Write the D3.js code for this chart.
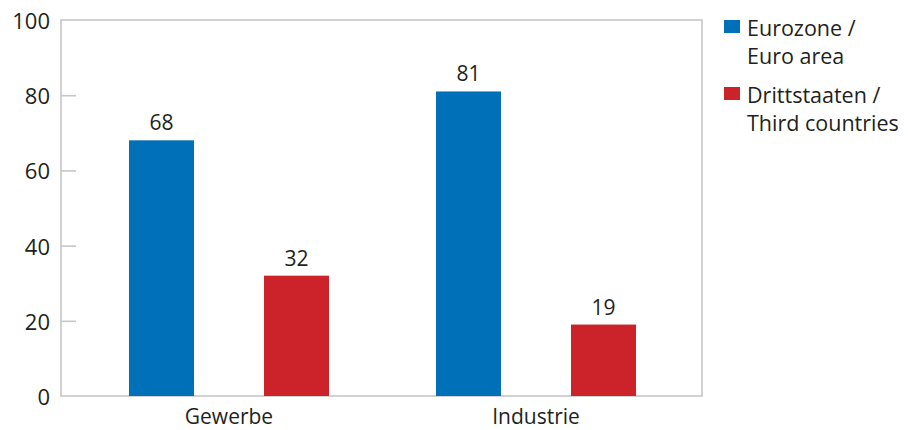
<!DOCTYPE html>
<html><head><meta charset="utf-8">
<script src="https://cdn.jsdelivr.net/npm/d3@7"></script>
<style>body{margin:0;background:#fff}svg{display:block}text{font-family:"Open Sans",sans-serif;fill:#231f20}</style>
</head><body>
<svg id="c" width="908" height="430"></svg>
<script>
const categories = ["Gewerbe", "Industrie"];
const seriesNames = ["Eurozone", "Drittstaaten"];
const legendLabels = [["Eurozone /", "Euro area"], ["Drittstaaten /", "Third countries"]];
const eurozone = [68, 81];
const drittstaaten = [32, 19];
const yTicks = [0, 20, 40, 60, 80, 100];
const colors = ["#0070b8", "#cc2229"];

const svg = d3.select("#c");
const L = 61, R = 702, T = 20, B = 396;
const frame = "#c6c6c8";
const y = d3.scaleLinear().domain([0, 100]).range([B, T]);
const x0 = d3.scaleBand().domain(categories).range([75.5, 689.5]).padding(0);
const x1 = d3.scaleBand().domain(seriesNames).range([53.5, 253.5]).paddingInner(70/135).paddingOuter(0);
const seriesData = [eurozone, drittstaaten];

// frame
svg.append("rect").attr("x", L).attr("y", T).attr("width", R - L).attr("height", B - T)
  .attr("fill", "none").attr("stroke", frame).attr("stroke-width", 1.6);

// y axis ticks
const yAxis = d3.axisRight(y).tickValues(yTicks.filter(v => v > 0 && v < 100)).tickSize(15).tickFormat("");
const ga = svg.append("g").attr("transform", `translate(${L},0)`).call(yAxis);
ga.select(".domain").remove();
ga.selectAll("line").attr("stroke", frame).attr("stroke-width", 1.6);

svg.append("g").selectAll("text").data(yTicks).join("text")
  .attr("x", 50).attr("y", d => y(d) + 9).attr("text-anchor", "end")
  .attr("font-size", 22).text(d => d);

// bars
categories.forEach((c, i) => {
  seriesNames.forEach((s, j) => {
    const v = seriesData[j][i];
    const bx = x0(c) + x1(s);
    svg.append("rect").attr("x", bx).attr("y", y(v)).attr("width", x1.bandwidth())
      .attr("height", y(0) - y(v)).attr("fill", colors[j]);
    svg.append("text").attr("x", bx + x1.bandwidth() / 2).attr("y", y(v) - 10)
      .attr("text-anchor", "middle").attr("font-size", 21).text(v);
  });
  svg.append("text").attr("x", x0(c) + x0.bandwidth() / 2).attr("y", 424)
    .attr("text-anchor", "middle").attr("font-size", 21).text(c);
});

// legend
legendLabels.forEach((lines, j) => {
  const base = 36 + j * 67;
  svg.append("rect").attr("x", 724).attr("y", base - 16).attr("width", 16).attr("height", 13).attr("fill", colors[j]);
  lines.forEach((t, k) => {
    svg.append("text").attr("x", 747).attr("y", base + k * 28).attr("font-size", 21.5).text(t);
  });
});
</script>
</body></html>
